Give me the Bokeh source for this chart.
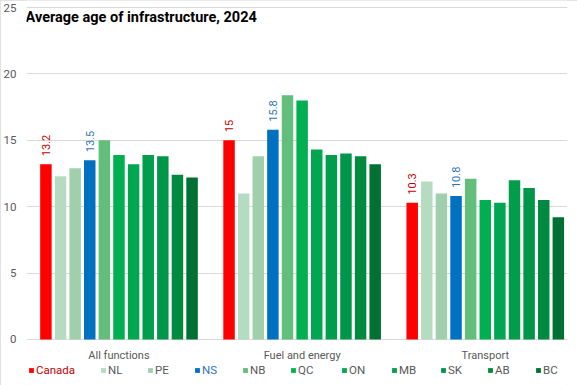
from math import pi
from bokeh.plotting import figure
from bokeh.models import (Range1d, FixedTicker, Legend, LegendItem, Label, ColumnDataSource)
from bokeh.core.properties import value
from bokeh.embed import file_html
from bokeh.resources import INLINE

# ---------------- data ----------------
groups = ["All functions", "Fuel and energy", "Transport"]
series = ["Canada", "NL", "PE", "NS", "NB", "QC", "ON", "MB", "SK", "AB", "BC"]
all_functions = [13.2, 12.3, 12.9, 13.5, 15.0, 13.9, 13.2, 13.9, 13.8, 12.4, 12.2]
fuel_energy = [15.0, 11.0, 13.8, 15.8, 18.4, 18.0, 14.3, 13.9, 14.0, 13.8, 13.2]
transport = [10.3, 11.9, 11.0, 10.8, 12.1, 10.5, 10.3, 12.0, 11.4, 10.5, 9.2]
y_ticks = [0, 5, 10, 15, 20, 25]
labelled = ["Canada", "NS"]

# ---------------- styles ----------------
colors = ["#FF0000", "#B5DCC0", "#A0D0AB", "#0070C0", "#63BE7B", "#00B050",
          "#00A651", "#009E4B", "#00964A", "#008A40", "#007033"]
text_colors = {"Canada": "#C00000", "NS": "#2E75B6"}
FONT = "Roboto"
GREY = "#595959"

p = figure(width=577, height=385,
           x_range=Range1d(-0.505, 2.449), y_range=Range1d(-3.464, 25.527),
           x_axis_location=None,
           output_backend="svg", toolbar_location=None,
           min_border_left=25, min_border_right=10, min_border_top=0, min_border_bottom=0)
p.outline_line_color = None
p.background_fill_color = "white"
p.border_fill_color = "white"
p.styles = {"outline": "1px solid #D9D9D9", "outline-offset": "-1px"}

pitch = 0.0798
bar_w = 0.0627
group_x = list(range(len(groups)))

legend_x = [2, 74, 121, 168, 216, 264, 315, 365, 414, 461, 509]

for i, s in enumerate(series):
    vals = [all_functions[i], fuel_energy[i], transport[i]]
    xs = [g + (i - 5) * pitch for g in group_x]
    src = ColumnDataSource(dict(x=xs, top=vals, lab=[f"{v:g}" for v in vals]))
    r = p.vbar(x="x", top="top", bottom=0, width=bar_w, source=src,
               fill_color=colors[i], line_color=None)
    if s in labelled:
        p.text(x="x", y="top", text="lab", source=src, angle=pi / 2,
               text_align="left", text_baseline="middle", y_offset=-8,
               text_font=value(FONT), text_font_size="11px",
               text_color=text_colors[s])
    leg = Legend(items=[LegendItem(label=s, renderers=[r])],
                 location=(legend_x[i], 8), orientation="horizontal",
                 padding=0, margin=0, spacing=0,
                 border_line_color=None, background_fill_alpha=0,
                 glyph_width=6, glyph_height=6, label_standoff=2, label_height=14,
                 label_text_font=FONT, label_text_font_size="11.5px",
                 label_text_color=text_colors.get(s, GREY))
    p.add_layout(leg)

# category (group) labels under the zero line
gsrc = ColumnDataSource(dict(x=group_x, y=[0] * len(groups), name=groups))
p.text(x="x", y="y", text="name", source=gsrc, y_offset=16,
       text_align="center", text_baseline="middle",
       text_font=value(FONT), text_font_size="11px", text_color=GREY)

# y axis
p.yaxis.ticker = FixedTicker(ticks=y_ticks)
p.yaxis.axis_line_color = None
p.yaxis.major_tick_line_color = None
p.yaxis.major_tick_out = 0
p.yaxis.major_tick_in = 0
p.yaxis.minor_tick_line_color = None
p.yaxis.major_label_standoff = 10
p.yaxis.major_label_text_font = FONT
p.yaxis.major_label_text_font_size = "11.5px"
p.yaxis.major_label_text_color = GREY

p.xgrid.grid_line_color = None
p.ygrid.grid_line_color = "#D9D9D9"
p.ygrid.grid_line_width = 1

title = Label(x=-1, y=368, x_units="screen", y_units="screen",
              text="Average age of infrastructure, 2024", text_baseline="middle",
              text_font=FONT, text_font_size="14.5px", text_font_style="bold",
              text_color="black")
p.add_layout(title)

open("out.html", "w").write(file_html(p, INLINE))
